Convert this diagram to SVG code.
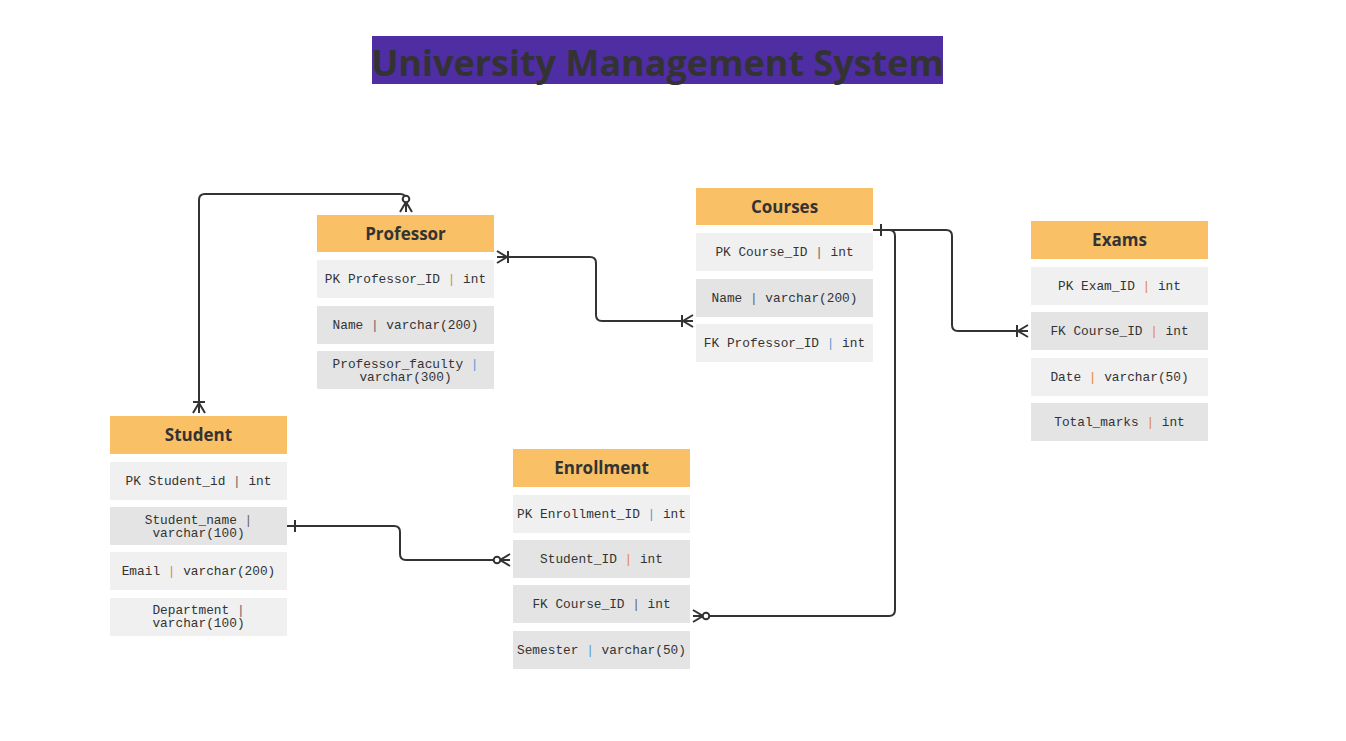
<svg xmlns="http://www.w3.org/2000/svg" width="1346" height="741" viewBox="0 0 1346 741">
<style>
.hdr{fill:#f9c066}
.rl{fill:#f0f0f0}
.rd{fill:#e4e4e4}
.ht{font-family:"Open Sans","Liberation Sans",sans-serif;font-weight:bold;font-size:17px;fill:#333;text-anchor:middle}
.ft{font-family:"Liberation Mono","DejaVu Sans Mono",monospace;font-size:12.8px;fill:#333;text-anchor:middle}
.po{fill:#e08a3c}
.pb{fill:#5b9bd5}
.pg{fill:#666}
.conn{fill:none;stroke:#333;stroke-width:2}
.mk{fill:none;stroke:#333;stroke-width:2}
</style>
<defs>
<marker id="oneMany" markerUnits="userSpaceOnUse" orient="auto-start-reverse" overflow="visible" markerWidth="1" markerHeight="1" refX="0" refY="0">
<path class="mk" d="M0,-6 L-10,0 L0,6 M-11,-6 L-11,6"/>
</marker>
<marker id="zeroMany" markerUnits="userSpaceOnUse" orient="auto-start-reverse" overflow="visible" markerWidth="1" markerHeight="1" refX="0" refY="0">
<path class="mk" d="M0,-6 L-10,0 L0,6"/>
<circle cx="-13" cy="0" r="3.3" fill="#fff" stroke="#333" stroke-width="2"/>
</marker>
<marker id="one" markerUnits="userSpaceOnUse" orient="auto-start-reverse" overflow="visible" markerWidth="1" markerHeight="1" refX="0" refY="0">
<path class="mk" d="M-8,-6 L-8,6"/>
</marker>
</defs>
<rect width="1346" height="741" fill="#fff"/>
<g id="title">
<rect x="372" y="36" width="571" height="48" fill="#4f2da3"/>
<text x="657.5" y="76" font-family="'Open Sans','Liberation Sans',sans-serif" font-weight="bold" font-size="36" fill="#333" text-anchor="middle">University Management System</text>
</g>
<g id="connectors">
<path class="conn" d="M406,212 L406,200 Q406,194 400,194 L205,194 Q199,194 199,200 L199,413" marker-start="url(#zeroMany)" marker-end="url(#oneMany)"/>
<path class="conn" d="M497,257 L590,257 Q596,257 596,263 L596,315 Q596,321 602,321 L693,321" marker-start="url(#oneMany)" marker-end="url(#oneMany)"/>
<path class="conn" d="M287,526 L394,526 Q400,526 400,532 L400,554 Q400,560 406,560 L510,560" marker-start="url(#one)" marker-end="url(#zeroMany)"/>
<path class="conn" d="M873,230 L946,230 Q952,230 952,236 L952,325 Q952,331 958,331 L1028,331" marker-start="url(#one)" marker-end="url(#oneMany)"/>
<path class="conn" d="M873,230 L889,230 Q895,230 895,236 L895,610 Q895,616 889,616 L693,616" marker-end="url(#zeroMany)"/>
</g>
<g id="professor">
<rect class="hdr" x="317" y="215" width="177" height="37"/>
<text class="ht" x="405.5" y="240">Professor</text>
<rect class="rl" x="317" y="260" width="177" height="38"/>
<text class="ft" x="405.5" y="283">PK Professor_ID <tspan class="po">|</tspan> int</text>
<rect class="rd" x="317" y="306" width="177" height="38"/>
<text class="ft" x="405.5" y="329">Name <tspan class="pg">|</tspan> varchar(200)</text>
<rect class="rd" x="317" y="351" width="177" height="38"/>
<text class="ft" x="405.5" y="367.5">Professor_faculty <tspan class="pb">|</tspan></text>
<text class="ft" x="405.5" y="380.5">varchar(300)</text>
</g>
<g id="courses">
<rect class="hdr" x="696" y="188" width="177" height="37"/>
<text class="ht" x="784.5" y="213">Courses</text>
<rect class="rl" x="696" y="233" width="177" height="38"/>
<text class="ft" x="784.5" y="256">PK Course_ID <tspan class="pg">|</tspan> int</text>
<rect class="rd" x="696" y="279" width="177" height="38"/>
<text class="ft" x="784.5" y="302">Name <tspan class="pg">|</tspan> varchar(200)</text>
<rect class="rl" x="696" y="324" width="177" height="38"/>
<text class="ft" x="784.5" y="347">FK Professor_ID <tspan class="pb">|</tspan> int</text>
</g>
<g id="exams">
<rect class="hdr" x="1031" y="221" width="177" height="38"/>
<text class="ht" x="1119.5" y="246">Exams</text>
<rect class="rl" x="1031" y="267" width="177" height="38"/>
<text class="ft" x="1119.5" y="290">PK Exam_ID <tspan class="po">|</tspan> int</text>
<rect class="rd" x="1031" y="312" width="177" height="38"/>
<text class="ft" x="1119.5" y="335">FK Course_ID <tspan class="po">|</tspan> int</text>
<rect class="rl" x="1031" y="358" width="177" height="38"/>
<text class="ft" x="1119.5" y="381">Date <tspan class="po">|</tspan> varchar(50)</text>
<rect class="rd" x="1031" y="403" width="177" height="38"/>
<text class="ft" x="1119.5" y="426">Total_marks <tspan class="po">|</tspan> int</text>
</g>
<g id="student">
<rect class="hdr" x="110" y="416" width="177" height="38"/>
<text class="ht" x="198.5" y="441">Student</text>
<rect class="rl" x="110" y="462" width="177" height="38"/>
<text class="ft" x="198.5" y="485">PK Student_id <tspan class="pg">|</tspan> int</text>
<rect class="rd" x="110" y="507" width="177" height="38"/>
<text class="ft" x="198.5" y="523.5">Student_name <tspan class="pg">|</tspan></text>
<text class="ft" x="198.5" y="536.5">varchar(100)</text>
<rect class="rl" x="110" y="552" width="177" height="38"/>
<text class="ft" x="198.5" y="575">Email <tspan class="po">|</tspan> varchar(200)</text>
<rect class="rl" x="110" y="598" width="177" height="38"/>
<text class="ft" x="198.5" y="614">Department <tspan class="pg">|</tspan></text>
<text class="ft" x="198.5" y="627">varchar(100)</text>
</g>
<g id="enrollment">
<rect class="hdr" x="513" y="449" width="177" height="38"/>
<text class="ht" x="601.5" y="474">Enrollment</text>
<rect class="rl" x="513" y="495" width="177" height="38"/>
<text class="ft" x="601.5" y="518">PK Enrollment_ID <tspan class="pb">|</tspan> int</text>
<rect class="rd" x="513" y="540" width="177" height="38"/>
<text class="ft" x="601.5" y="563">Student_ID <tspan class="po">|</tspan> int</text>
<rect class="rd" x="513" y="585" width="177" height="38"/>
<text class="ft" x="601.5" y="608">FK Course_ID <tspan class="pg">|</tspan> int</text>
<rect class="rd" x="513" y="631" width="177" height="38"/>
<text class="ft" x="601.5" y="654">Semester <tspan class="pb">|</tspan> varchar(50)</text>
</g>
</svg>
